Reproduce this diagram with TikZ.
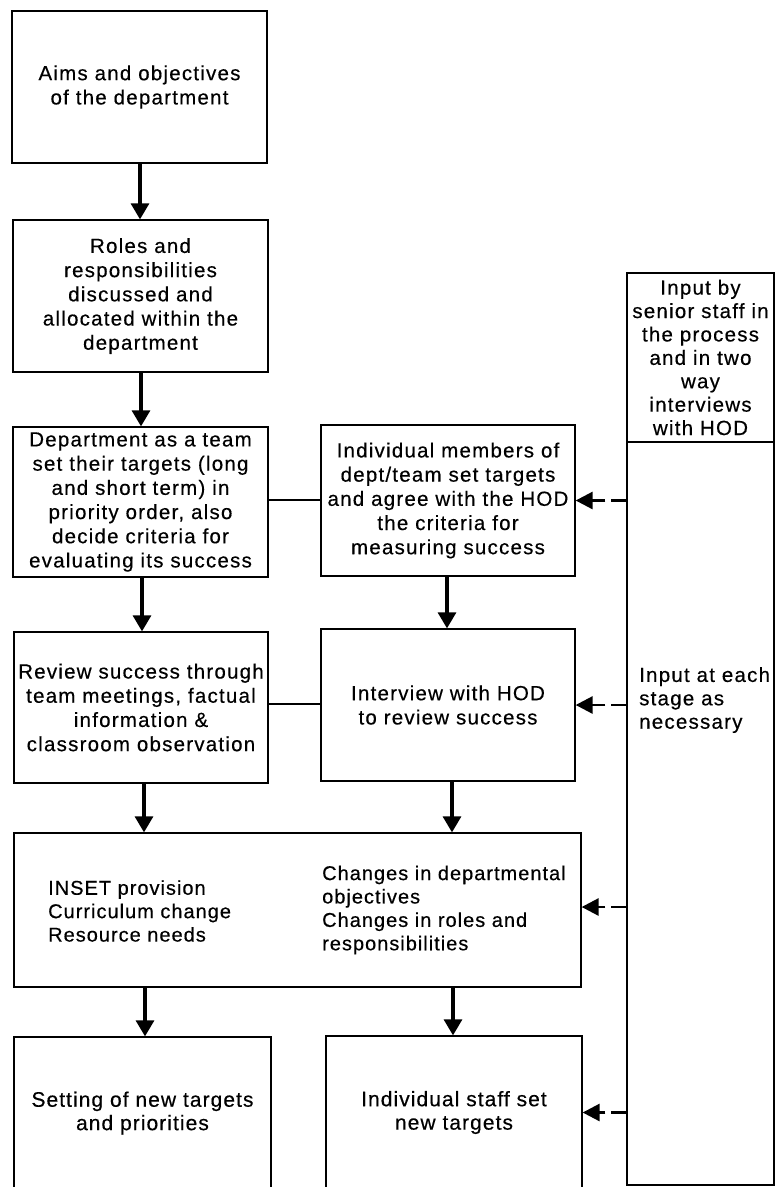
\documentclass[tikz,border=0pt]{standalone}
\usepackage{fontspec}
\setmainfont{Liberation Sans}[LetterSpace=6, FakeBold=0.4]
\newfontfamily\lowfont{Liberation Sans}[LetterSpace=5, FakeBold=0.4]
\usetikzlibrary{arrows.meta}
\begin{document}
\begin{tikzpicture}[x=1pt,y=-1pt,
  box/.style={draw, line width=1.3pt, inner sep=0pt, align=center,
    font=\fontsize{20.5}{24.2}\selectfont},
  flow/.style={line width=3.2pt, -{Triangle[length=16pt,width=18pt]}},
  link/.style={line width=2.2pt},
  feed/.style={line width=2.8pt, dash pattern=on 15pt off 6pt on 60pt,
    -{Triangle[length=17pt,width=17pt]}},
  listtext/.style={inner sep=0pt, align=left,
    font=\lowfont\fontsize{20}{23.4}\selectfont},
  lowbox/.style={box, font=\lowfont\fontsize{21}{23.4}\selectfont},
  sidetext/.style={inner sep=0pt,
    font=\fontsize{20.5}{23.4}\selectfont}]
\useasboundingbox (0,0) rectangle (775,1187);
\fill[white] (0,0) rectangle (775,1187);

% left column
\node[box, minimum width=255pt, minimum height=152pt] (aims) at (139.5,87)
  {Aims and objectives\\of the department};
\node[box, minimum width=255pt, minimum height=152pt] (roles) at (140.5,296)
  {Roles and\\responsibilities\\discussed and\\allocated within the\\department};
\node[box, minimum width=255pt, minimum height=150pt] (team) at (140.5,502)
  {Department as a team\\set their targets (long\\and short term) in\\priority order, also\\decide criteria for\\evaluating its success};
\node[box, minimum width=254pt, minimum height=151pt] (review) at (141,707.5)
  {Review success through\\team meetings, factual\\information \&\\classroom observation};

% middle column
\node[box, minimum width=254pt, minimum height=151pt] (indiv) at (448,500.5)
  {Individual members of\\dept/team set targets\\and agree with the HOD\\the criteria for\\measuring success};
\node[box, minimum width=254pt, minimum height=152pt] (interview) at (448,705)
  {Interview with HOD\\to review success};

% outcomes box
\node[box, minimum width=567pt, minimum height=154pt] (changes) at (297.5,910) {};
\node[listtext, anchor=west] (needs) at (48,911)
  {INSET provision\\Curriculum change\\Resource needs};
\node[listtext, anchor=west] (deptchg) at (322,910)
  {Changes in departmental\\objectives\\Changes in roles and\\responsibilities};

% new targets
\node[lowbox, minimum width=257pt, minimum height=152pt] (newteam) at (142.5,1113)
  {Setting of new targets\\and priorities};
\node[lowbox, minimum width=256pt, minimum height=153pt] (newindiv) at (454,1112.5)
  {Individual staff set\\new targets};

% senior staff column
\node[box, minimum width=147pt, minimum height=169pt,
  font=\fontsize{20.5}{23.4}\selectfont] (senior) at (700.5,357.5)
  {Input by\\senior staff in\\the process\\and in two\\way\\interviews\\with HOD};
\node[box, minimum width=147pt, minimum height=743pt] (stage) at (700.5,813.5) {};
\node[sidetext, anchor=west, align=left] (stagetext) at (639,700)
  {Input at each\\stage as\\necessary};

% main flow
\draw[flow] (aims.south -| 140,0) -- (roles.north -| 140,0);
\draw[flow] (roles.south -| 141,0) -- (team.north -| 141,0);
\draw[flow] (team.south -| 142,0) -- (review.north -| 142,0);
\draw[flow] (indiv.south -| 447,0) -- (interview.north -| 447,0);
\draw[flow] (review.south -| 144,0) -- (changes.north -| 144,0);
\draw[flow] (interview.south -| 452,0) -- (changes.north -| 452,0);
\draw[flow] (changes.south -| 145,0) -- (newteam.north -| 145,0);
\draw[flow] (changes.south -| 453,0) -- (newindiv.north -| 453,0);

% links between the team and individual stages
\draw[link] (team.east |- 0,500) -- (indiv.west |- 0,500);
\draw[link] (review.east |- 0,704) -- (interview.west |- 0,704);

% senior staff input
\draw[feed] (stage.west |- indiv.east) -- (indiv.east);
\draw[feed] (stage.west |- interview.east) -- (interview.east);
\draw[feed] (stage.west |- 0,907) -- (changes.east |- 0,907);
\draw[feed] (stage.west |- newindiv.east) -- (newindiv.east);
\end{tikzpicture}
\end{document}
